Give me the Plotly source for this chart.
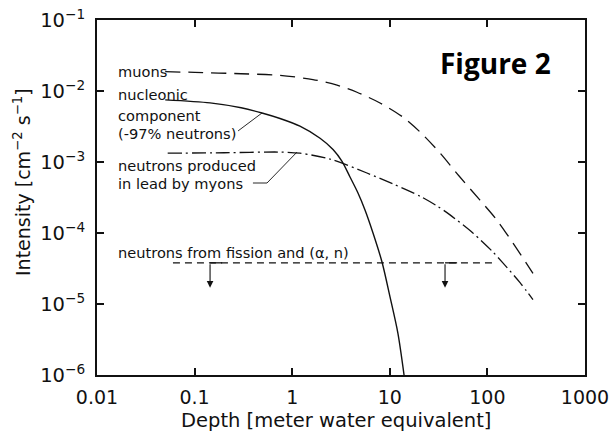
import numpy as np
import plotly.graph_objects as go

# ---- data ----
muon_x = [0.05, 0.1, 0.3, 0.75, 1.63, 2.88, 4.61, 7.94, 13.6, 20.4, 32.7, 51, 84, 125, 183, 293]
muon_y = [0.0187, 0.0183, 0.0175, 0.0166, 0.0145, 0.0121, 0.0096, 0.00678, 0.0043, 0.00265,
          0.00134, 6.4e-4, 2.9e-4, 1.52e-4, 7.2e-5, 2.7e-5]

nuc_x = [0.05, 0.144, 0.3, 0.49, 0.75, 1.2, 1.93, 2.62, 3.24, 3.91, 4.72, 5.57, 6.73, 8.32, 10.05, 12.1, 14.0]
nuc_y = [0.0075, 0.0068, 0.0058, 0.0049, 0.0041, 0.0032, 0.00216, 0.0015, 1.02e-3, 6.15e-4,
         3.66e-4, 2.11e-4, 1.0e-4, 3.9e-5, 1.26e-5, 3.9e-6, 1.0e-6]

lead_x = [0.053, 0.2, 0.75, 1.2, 2.44, 5.83, 10.8, 20.4, 30.5, 41.4, 71, 114, 144, 216, 293]
lead_y = [1.33e-3, 1.35e-3, 1.38e-3, 1.33e-3, 1.10e-3, 7.0e-4, 4.9e-4, 3.3e-4, 2.4e-4,
          1.8e-4, 1.0e-4, 5.4e-5, 3.8e-5, 2.0e-5, 1.15e-5]

fission_x = [0.06, 125]
fission_y = [3.8e-5, 3.8e-5]

arrow_x = [0.144, 36.8]
arrow_top = 3.8e-5
arrow_bottom = 1.7e-5

x_tickvals = [0.01, 0.1, 1, 10, 100, 1000]
x_ticktext = ["0.01", "0.1", "1", "10", "100", "1000"]
y_tickvals = [1e-6, 1e-5, 1e-4, 1e-3, 1e-2, 1e-1]
y_ticktext = ["10<sup>\u22126</sup>", "10<sup>\u22125</sup>", "10<sup>\u22124</sup>",
              "10<sup>\u22123</sup>", "10<sup>\u22122</sup>", "10<sup>\u22121</sup>"]

FONT = "DejaVu Sans"
BLACK = "#111111"

fig = go.Figure()
fig.add_trace(go.Scatter(x=muon_x, y=muon_y, mode="lines", line=dict(color=BLACK, width=1.3, dash="15px,8px", shape="spline", smoothing=0.8)))
fig.add_trace(go.Scatter(x=nuc_x, y=nuc_y, mode="lines", line=dict(color=BLACK, width=1.4, shape="spline", smoothing=0.8)))
fig.add_trace(go.Scatter(x=lead_x, y=lead_y, mode="lines", line=dict(color=BLACK, width=1.3, dash="14px,4px,2px,4px", shape="spline", smoothing=0.8)))
fig.add_trace(go.Scatter(x=fission_x, y=fission_y, mode="lines", line=dict(color=BLACK, width=1.3, dash="7px,5px")))

# leader lines
fig.add_trace(go.Scatter(x=[0.279, 0.49], y=[0.00274, 0.0049], mode="lines", line=dict(color=BLACK, width=0.9)))
fig.add_trace(go.Scatter(x=[0.396, 0.552, 1.12], y=[5.06e-4, 5.06e-4, 1.38e-3], mode="lines", line=dict(color=BLACK, width=0.9)))

# arrow top bars
for ax_ in arrow_x:
    fig.add_trace(go.Scatter(x=[ax_, ax_ * 1.33], y=[arrow_top, arrow_top], mode="lines", line=dict(color=BLACK, width=1.3)))

annotations = []
for ax_ in arrow_x:
    annotations.append(dict(x=np.log10(ax_), y=np.log10(arrow_bottom), xref="x", yref="y",
                            ax=0, ay=-25, axref="pixel", ayref="pixel", showarrow=True,
                            arrowhead=2, arrowsize=1.2, arrowwidth=1.1, arrowcolor=BLACK, text=""))

def lab(text, xl, yl):
    annotations.append(dict(x=xl, y=yl, xref="x", yref="y", text=text, showarrow=False,
                            xanchor="left", yanchor="middle", borderpad=0,
                            font=dict(family=FONT, size=14.6, color=BLACK)))

lab("muons", -1.80, -1.732)
lab("nucleonic", -1.80, -2.056)
lab("component", -1.80, -2.352)
lab("(-97% neutrons)", -1.80, -2.592)
lab("neutrons produced", -1.80, -3.056)
lab("in lead by myons", -1.80, -3.296)
lab("neutrons from fission and (\u03b1, n)", -1.80, -4.268)

annotations.append(dict(x=0.816, y=0.879, xref="paper", yref="paper", text="<b>Figure 2</b>",
                        showarrow=False, xanchor="center", yanchor="middle",
                        font=dict(family="Open Sans", size=28, color="black")))

# axis titles (placed as in the reference)
annotations.append(dict(x=(336 - 97) / 488, y=-(420 - 375) / 355, xref="paper", yref="paper",
                        text="Depth [meter water equivalent]", showarrow=False,
                        xanchor="center", yanchor="middle",
                        font=dict(family=FONT, size=19.5, color=BLACK)))
annotations.append(dict(x=-(97 - 22) / 488, y=1 - (182 - 20) / 355, xref="paper", yref="paper",
                        text="Intensity [cm<sup>\u22122</sup> s<sup>\u22121</sup>]", showarrow=False,
                        textangle=-90, xanchor="center", yanchor="middle",
                        font=dict(family=FONT, size=19, color=BLACK)))

fig.update_layout(
    width=612, height=439,
    margin=dict(l=97, r=27, t=20, b=64),
    paper_bgcolor="white", plot_bgcolor="white",
    showlegend=False,
    annotations=annotations,
    font=dict(family=FONT, color=BLACK),
)
fig.update_xaxes(type="log", range=[-2, 3], tickvals=x_tickvals, ticktext=x_ticktext,
                 ticks="inside", ticklen=7, tickwidth=1.5, tickcolor=BLACK, automargin=False,
                 showline=True, linewidth=2, linecolor=BLACK, mirror="ticks", showgrid=False,
                 zeroline=False, ticklabelstandoff=4, tickfont=dict(family=FONT, size=19, color=BLACK))
fig.update_yaxes(type="log", range=[-6, -1], tickvals=y_tickvals, ticktext=y_ticktext,
                 ticks="inside", ticklen=7, tickwidth=1.5, tickcolor=BLACK, automargin=False,
                 showline=True, linewidth=2, linecolor=BLACK, mirror="ticks", showgrid=False,
                 zeroline=False, ticklabelstandoff=6, tickfont=dict(family=FONT, size=19.5, color=BLACK))

fig.write_html("out.html", config={"displayModeBar": False},
               post_script="document.body.style.margin='0';")
